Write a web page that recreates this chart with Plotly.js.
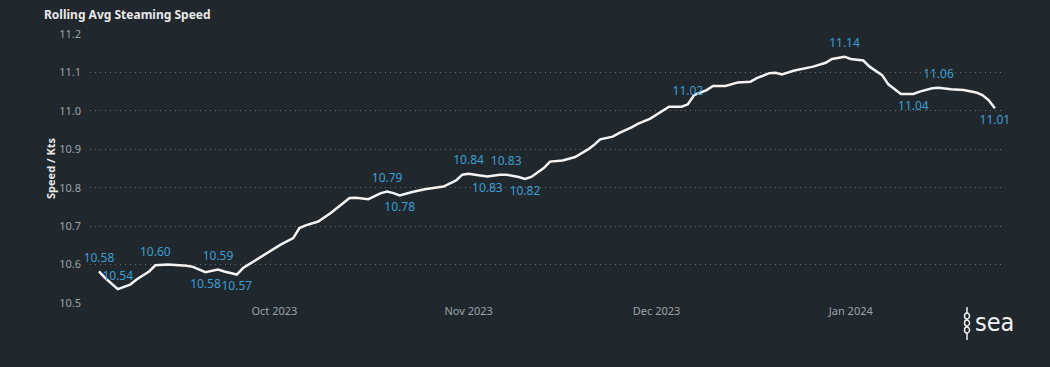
<!DOCTYPE html>
<html>
<head>
<meta charset="utf-8">
<script src="https://cdn.plot.ly/plotly-3.0.1.min.js"></script>
<style>
html,body{margin:0;padding:0;background:#20272d;}
#chart{width:1050px;height:367px;}
</style>
</head>
<body>
<div id="chart"></div>
<script>
// ---- data ----
const dates = ['2023-09-03','2023-09-04','2023-09-06','2023-09-08','2023-09-09','2023-09-11','2023-09-12','2023-09-14','2023-09-17','2023-09-18','2023-09-20','2023-09-22','2023-09-23','2023-09-25','2023-09-26','2023-09-29','2023-09-30',
'2023-10-02','2023-10-04','2023-10-05','2023-10-06','2023-10-08','2023-10-10','2023-10-13','2023-10-14','2023-10-16','2023-10-18','2023-10-19','2023-10-20','2023-10-21','2023-10-23','2023-10-25','2023-10-28','2023-10-30','2023-10-31',
'2023-11-01','2023-11-02','2023-11-04','2023-11-06','2023-11-07','2023-11-09','2023-11-10','2023-11-11','2023-11-13','2023-11-14','2023-11-16','2023-11-18','2023-11-20','2023-11-21','2023-11-22','2023-11-24','2023-11-25','2023-11-27','2023-11-28','2023-11-30',
'2023-12-02','2023-12-03','2023-12-05','2023-12-06','2023-12-07','2023-12-09','2023-12-10','2023-12-12','2023-12-14','2023-12-16','2023-12-17','2023-12-19','2023-12-20','2023-12-21','2023-12-23','2023-12-24','2023-12-26','2023-12-28','2023-12-29','2023-12-31',
'2024-01-01','2024-01-03','2024-01-04','2024-01-06','2024-01-07','2024-01-09','2024-01-11','2024-01-12','2024-01-14','2024-01-15','2024-01-17','2024-01-19','2024-01-21','2024-01-22','2024-01-23','2024-01-24'];

const speed = [10.582,10.565,10.536,10.548,10.561,10.582,10.598,10.600,10.597,10.594,10.580,10.587,10.582,10.574,10.591,10.621,10.632,
10.652,10.669,10.695,10.702,10.712,10.734,10.773,10.774,10.770,10.786,10.790,10.786,10.780,10.789,10.796,10.803,10.819,10.834,
10.836,10.834,10.829,10.834,10.834,10.828,10.823,10.828,10.851,10.868,10.871,10.880,10.899,10.911,10.926,10.933,10.942,10.957,10.966,10.980,
11.001,11.011,11.011,11.017,11.041,11.054,11.065,11.065,11.074,11.076,11.085,11.098,11.099,11.095,11.105,11.108,11.115,11.125,11.135,11.141,
11.135,11.131,11.115,11.093,11.069,11.044,11.044,11.050,11.059,11.060,11.056,11.054,11.048,11.041,11.028,11.007];

const labelDates = ['2023-09-03','2023-09-06','2023-09-12','2023-09-20','2023-09-22','2023-09-25','2023-10-19','2023-10-21','2023-11-01','2023-11-04','2023-11-07','2023-11-10','2023-12-06','2023-12-31','2024-01-11','2024-01-15','2024-01-24'];
const labelSide = ['top','top','top','bottom','top','bottom','top','bottom','top','bottom','top','bottom','top','top','bottom','top','bottom'];

const tickDates = ['2023-10-01','2023-11-01','2023-12-01','2024-01-01'];
const tickLabels = ['Oct 2023','Nov 2023','Dec 2023','Jan 2024'];
const yTicks = [10.5,10.6,10.7,10.8,10.9,11.0,11.1,11.2];
const yTickLabels = ['10.5','10.6','10.7','10.8','10.9','11.0','11.1','11.2'];

// ---- build label text per point ----
const txt = dates.map(() => '');
const pos = dates.map(() => 'top center');
labelDates.forEach((d, i) => {
  const k = dates.indexOf(d);
  if (k >= 0) {
    txt[k] = speed[k].toFixed(2);
    pos[k] = labelSide[i] + ' center';
  }
});

const trace = {
  x: dates,
  y: speed,
  type: 'scatter',
  mode: 'lines+markers+text',
  line: {color: '#f4f4f4', width: 2.5},
  marker: {size: 9, color: 'rgba(0,0,0,0)'},
  text: txt,
  textposition: pos,
  textfont: {family: 'Noto Sans, Open Sans, sans-serif', size: 12, color: '#3d9fd3'},
  cliponaxis: false,
  hoverinfo: 'x+y'
};

const px = (p) => (p - 90) / 913;
const py = (p) => (303 - p) / 269;

const layout = {
  width: 1050,
  height: 367,
  paper_bgcolor: '#20272d',
  plot_bgcolor: '#20272d',
  margin: {l: 90, r: 47, t: 34, b: 64},
  showlegend: false,
  title: {
    text: '<b>Rolling Avg Steaming Speed</b>',
    font: {family: 'Noto Sans, Open Sans, sans-serif', size: 12, color: '#e8e8e8'},
    x: 44 / 1050, xanchor: 'left', xref: 'container',
    y: 1 - 15 / 367, yanchor: 'middle', yref: 'container'
  },
  xaxis: {
    type: 'date',
    range: ['2023-09-01 13:40', '2024-01-25 07:10'],
    tickvals: tickDates,
    ticktext: tickLabels,
    showgrid: false,
    zeroline: false,
    showline: false,
    ticks: '',
    tickfont: {family: 'Noto Sans, Open Sans, sans-serif', size: 11, color: '#9ea3a8'}
  },
  yaxis: {
    range: [10.5, 11.2],
    tickvals: yTicks,
    ticktext: yTickLabels,
    showgrid: true,
    gridcolor: '#6a7076',
    griddash: '1px,4px',
    gridwidth: 1,
    zeroline: false,
    showline: false,
    ticks: '',
    ticklabelstandoff: 8,
    tickfont: {family: 'Noto Sans, Open Sans, sans-serif', size: 11, color: '#9ea3a8'},
    title: {
      text: '<b>Speed / Kts</b>',
      font: {family: 'Noto Sans, Open Sans, sans-serif', size: 11, color: '#e8e8e8'},
      standoff: 1
    }
  },
  shapes: [
    {type: 'line', xref: 'paper', yref: 'paper', x0: px(967), x1: px(967), y0: py(307), y1: py(340), line: {color: '#f0f0f0', width: 1.5}},
    {type: 'circle', xref: 'paper', yref: 'paper', x0: px(964.5), x1: px(969.5), y0: py(313), y1: py(319), line: {color: '#f0f0f0', width: 1.5}, fillcolor: '#20272d'},
    {type: 'circle', xref: 'paper', yref: 'paper', x0: px(964.5), x1: px(969.5), y0: py(320), y1: py(326), line: {color: '#f0f0f0', width: 1.5}, fillcolor: '#20272d'},
    {type: 'circle', xref: 'paper', yref: 'paper', x0: px(964.5), x1: px(969.5), y0: py(327), y1: py(333), line: {color: '#f0f0f0', width: 1.5}, fillcolor: '#20272d'}
  ],
  annotations: [
    {text: 'sea', xref: 'paper', yref: 'paper', x: px(973), y: py(322), xanchor: 'left', yanchor: 'middle', showarrow: false,
     font: {family: 'DejaVu Sans Condensed, DejaVu Sans, sans-serif', size: 25, color: '#f0f0f0'}}
  ]
};

Plotly.newPlot('chart', [trace], layout, {displayModeBar: false, staticPlot: true});
</script>
</body>
</html>
